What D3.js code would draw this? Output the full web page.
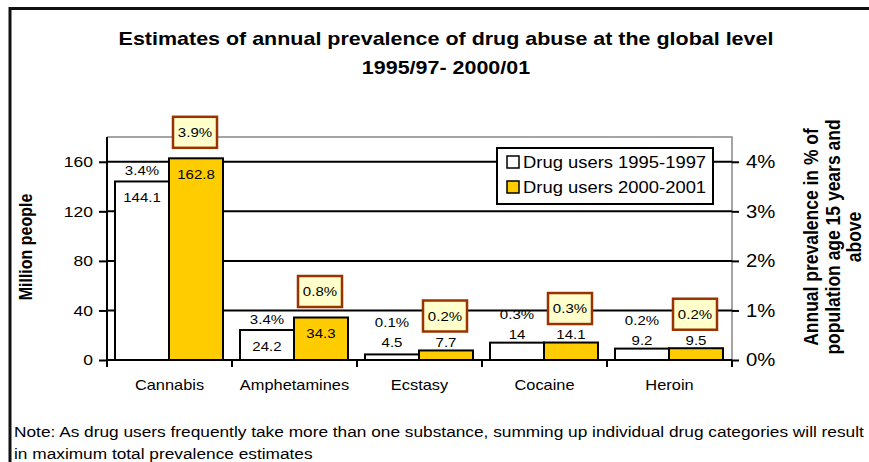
<!DOCTYPE html>
<html>
<head>
<meta charset="utf-8">
<script src="https://cdn.jsdelivr.net/npm/d3@7"></script>
<style>
  body { margin: 0; background: #fff; }
  svg { font-family: "Liberation Sans", Arial, sans-serif; }
</style>
</head>
<body>
<svg id="chart" width="869" height="462"></svg>
<script>
// chart data
const categories = ['Cannabis', 'Amphetamines', 'Ecstasy', 'Cocaine', 'Heroin'];
const seriesNames = ['Drug users 1995-1997', 'Drug users 2000-2001'];
const users9597 = [144.1, 24.2, 4.5, 14, 9.2];
const users0001 = [162.8, 34.3, 7.7, 14.1, 9.5];
const prev9597 = ['3.4%', '3.4%', '0.1%', '0.3%', '0.2%'];
const prev0001 = ['3.9%', '0.8%', '0.2%', '0.3%', '0.2%'];
const leftTicks = [0, 40, 80, 120, 160];
const rightTicks = [0, 1, 2, 3, 4];
const colors = ['#FFFFFF', '#FFCC00'];

// the original picture is a bit wider than tall, so text gets stretched sideways
const SX = 1.13;
const at = (fx, fy) => (d, i) => `translate(${fx(d, i)},${fy(d, i)}) scale(${SX},1)`;

const svg = d3.select('#chart');

// plot area
const plotL = 107, plotR = 732, plotT = 137, plotB = 360;

const x0 = d3.scaleBand().domain(categories).range([plotL, plotR]);
const x1 = d3.scaleBand().domain([0, 1]).range([8, x0.bandwidth() - 9]);
const y = d3.scaleLinear().domain([0, 180]).range([plotB, plotT]);
const yR = d3.scaleLinear().domain([0, 4.5]).range([plotB, plotT]);

// outer frame (top and left only)
svg.append('path')
    .attr('d', `M10,462 V8.5 H869`)
    .attr('fill', 'none')
    .attr('stroke', '#111')
    .attr('stroke-width', 3);

// title
const titleLines = ['Estimates of annual prevalence of drug abuse at the global level', '1995/97- 2000/01'];
svg.append('g')
    .selectAll('text')
    .data(titleLines)
    .enter().append('text')
    .attr('transform', at(() => 446, (d, i) => 45 + i * 29))
    .attr('text-anchor', 'middle')
    .attr('font-size', 19).attr('font-weight', 'bold')
    .text(d => d);

// plot border (gray top and right)
svg.append('path')
    .attr('d', `M${plotL},${plotT} H${plotR} V${plotB}`)
    .attr('fill', 'none')
    .attr('stroke', '#888')
    .attr('stroke-width', 1.5);

// gridlines
svg.append('g')
    .selectAll('line')
    .data(leftTicks.filter(d => d > 0))
    .enter().append('line')
    .attr('x1', plotL).attr('x2', plotR)
    .attr('y1', d => y(d)).attr('y2', d => y(d))
    .attr('stroke', '#000')
    .attr('stroke-width', 2);

function styleTicks(g, size) {
    g.selectAll('.tick line').attr('stroke-width', 2);
    g.selectAll('.tick text')
        .attr('font-size', size)
        .attr('font-family', '"Liberation Sans", Arial, sans-serif')
        .attr('fill', '#000')
        .each(function () {
            const t = d3.select(this);
            t.attr('x', +t.attr('x') / SX).attr('transform', `scale(${SX},1)`);
        });
}

// left axis
const yAxis = svg.append('g')
    .attr('transform', `translate(${plotL},0)`)
    .call(d3.axisLeft(y).tickValues(leftTicks).tickSize(8).tickPadding(6));
yAxis.select('.domain').attr('stroke', '#000').attr('stroke-width', 2)
    .attr('d', `M0,${plotT}V${plotB}`);
styleTicks(yAxis, 15.5);

// right axis
const yRAxis = svg.append('g')
    .attr('transform', `translate(${plotR},0)`)
    .call(d3.axisRight(yR).tickValues(rightTicks).tickFormat(d => d + '%').tickSize(7).tickPadding(7));
yRAxis.select('.domain').remove();
styleTicks(yRAxis, 18);

// bars
const rows = categories.map((c, i) => ({
    cat: c,
    vals: [users9597[i], users0001[i]],
    prev: [prev9597[i], prev0001[i]]
}));

const groups = svg.append('g')
    .selectAll('g')
    .data(rows)
    .enter().append('g')
    .attr('transform', d => `translate(${x0(d.cat)},0)`);

groups.selectAll('rect')
    .data(d => d.vals)
    .enter().append('rect')
    .attr('x', (d, i) => x1(i))
    .attr('width', x1.bandwidth())
    .attr('y', d => y(d))
    .attr('height', d => plotB - y(d))
    .attr('fill', (d, i) => colors[i])
    .attr('stroke', '#000')
    .attr('stroke-width', 2);

// value label centre: inside the bar when it is tall, above when short
function valueY(v) {
    const t = y(v);
    return (plotB - t) > 25 ? t + 16 : Math.min(t - 8, 342);
}

groups.selectAll('text.val')
    .data(d => d.vals)
    .enter().append('text')
    .attr('class', 'val')
    .attr('transform', at((d, i) => x1(i) + x1.bandwidth() / 2, d => valueY(d)))
    .attr('dy', '0.35em')
    .attr('text-anchor', 'middle')
    .attr('font-size', 13.3)
    .text(d => d);

// 1995-97 prevalence labels (plain)
groups.append('text')
    .attr('transform', at(() => x1(0) + x1.bandwidth() / 2,
        d => Math.min(y(d.vals[0]) - 11, valueY(d.vals[0]) - 20)))
    .attr('dy', '0.35em')
    .attr('text-anchor', 'middle')
    .attr('font-size', 13.3)
    .text(d => d.prev[0]);

// 2000-01 prevalence labels (boxed)
const boxW = 44, boxH = 31;
const boxes = groups.append('g')
    .attr('transform', d => {
        const cy = Math.min(y(d.vals[1]) - 26, valueY(d.vals[1]) - 26);
        return `translate(${x1(1) + x1.bandwidth() / 2 - 1},${cy})`;
    });
boxes.append('rect')
    .attr('x', -boxW / 2).attr('y', -boxH / 2)
    .attr('width', boxW).attr('height', boxH)
    .attr('fill', '#FFFFCC')
    .attr('stroke', '#993300')
    .attr('stroke-width', 2.5);
boxes.append('text')
    .attr('transform', `scale(${SX},1)`)
    .attr('dy', '0.35em')
    .attr('text-anchor', 'middle')
    .attr('font-size', 13.3)
    .text(d => d.prev[1]);

// baseline + category ticks
svg.append('line')
    .attr('x1', plotL).attr('x2', plotR)
    .attr('y1', plotB).attr('y2', plotB)
    .attr('stroke', '#000').attr('stroke-width', 2);
svg.append('g')
    .selectAll('line')
    .data(categories.map(c => x0(c)).concat([plotR]))
    .enter().append('line')
    .attr('x1', d => d).attr('x2', d => d)
    .attr('y1', plotB).attr('y2', plotB + 7)
    .attr('stroke', '#000').attr('stroke-width', 2);

svg.append('g')
    .selectAll('text')
    .data(categories)
    .enter().append('text')
    .attr('transform', at(d => x0(d) + x0.bandwidth() / 2, () => 390))
    .attr('text-anchor', 'middle')
    .attr('font-size', 14.5)
    .text(d => d);

// axis titles (rotated, so the stretch goes across the letters)
svg.append('text')
    .attr('transform', `translate(32,247) rotate(-90) scale(1,${SX})`)
    .attr('text-anchor', 'middle')
    .attr('font-size', 16).attr('font-weight', 'bold')
    .text('Million people');

const rTitle = ['Annual prevalence in % of', 'population age 15 years and', 'above'];
svg.append('g')
    .selectAll('text')
    .data(rTitle)
    .enter().append('text')
    .attr('transform', (d, i) => `translate(${818 + i * 21.5},237) rotate(-90) scale(1,${SX})`)
    .attr('text-anchor', 'middle')
    .attr('font-size', 17.5).attr('font-weight', 'bold')
    .text(d => d);

// legend
const legend = svg.append('g').attr('transform', 'translate(497,148)');
legend.append('rect')
    .attr('width', 216).attr('height', 56)
    .attr('fill', '#fff')
    .attr('stroke', '#000').attr('stroke-width', 2);
const items = legend.selectAll('g')
    .data(seriesNames)
    .enter().append('g')
    .attr('transform', (d, i) => `translate(10,${14 + i * 25})`);
items.append('rect')
    .attr('x', 0).attr('y', -6)
    .attr('width', 12).attr('height', 12)
    .attr('fill', (d, i) => colors[i])
    .attr('stroke', '#000').attr('stroke-width', 1.5);
items.append('text')
    .attr('transform', `translate(16,0) scale(${SX},1)`)
    .attr('dy', '0.36em')
    .attr('font-size', 16.3)
    .text(d => d);

// note
const noteLines = [
    'Note: As drug users frequently take more than one substance, summing up individual drug categories will result',
    'in maximum total prevalence estimates'
];
svg.append('g')
    .selectAll('text')
    .data(noteLines)
    .enter().append('text')
    .attr('transform', at(() => 14, (d, i) => 437 + i * 22))
    .attr('font-size', 15.3)
    .text(d => d);
</script>
</body>
</html>
